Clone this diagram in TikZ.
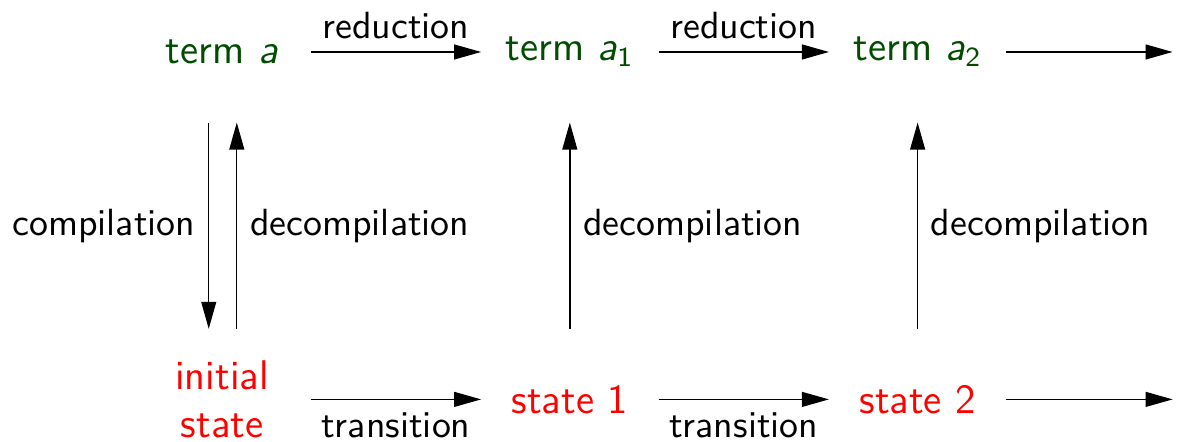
\documentclass[tikz,border=0pt,11pt]{standalone}
\usepackage{xcolor}
\usepackage{tikz}
\usetikzlibrary{positioning, arrows.meta, calc}

\definecolor{termgreen}{RGB}{0,77,0}
\newcommand{\vara}{\textsl{a}}

\begin{document}
\begin{tikzpicture}[
    >={Triangle[length=7.8pt,width=4.3pt]},
    every node/.style={font=\sffamily},
    termnode/.style={text=termgreen, font=\sffamily\large, minimum width=1.788cm, minimum height=1.42cm, inner sep=0pt},
    statenode/.style={text=red, font=\sffamily\large, minimum width=1.788cm, minimum height=1.42cm, inner sep=0pt, align=center},
]
\useasboundingbox (0,0) rectangle (11.98,-4.49);
\node[termnode](ta) at (2.256,-0.528){term \vara};
\node[termnode](ta1)[right = 1.732cm of ta]{term $\vara_{\mathsf{1}}$};
\node[termnode](ta2)[right = 1.732cm of ta1]{term $\vara_{\mathsf{2}}$};
\node[statenode](s0)[below = 2.096cm of ta]{initial\\state};
\node[statenode](s1)[below = 2.096cm of ta1]{state 1};
\node[statenode](s2)[below = 2.096cm of ta2]{state 2};
\coordinate(tend) at ($(ta2.east)+(1.69,0)$);
\coordinate(send) at ($(s2.east)+(1.69,0)$);
% reductions
\draw[->] (ta) -- node[above]{reduction} (ta1);
\draw[->] (ta1) -- node[above]{reduction} (ta2);
\draw[->] (ta2) -- (tend);
% transitions
\draw[->] (s0) -- node[below]{transition} (s1);
\draw[->] (s1) -- node[below]{transition} (s2);
\draw[->] (s2) -- (send);
% compilation / decompilation
\draw[->] ([xshift=-0.135cm]ta.south) -- node[left]{compilation} ([xshift=-0.135cm]s0.north);
\draw[->] ([xshift=0.15cm]s0.north) -- node[right]{decompilation} ([xshift=0.15cm]ta.south);
\draw[->] (s1) -- node[right]{decompilation} (ta1);
\draw[->] (s2) -- node[right]{decompilation} (ta2);
\end{tikzpicture}
\end{document}
